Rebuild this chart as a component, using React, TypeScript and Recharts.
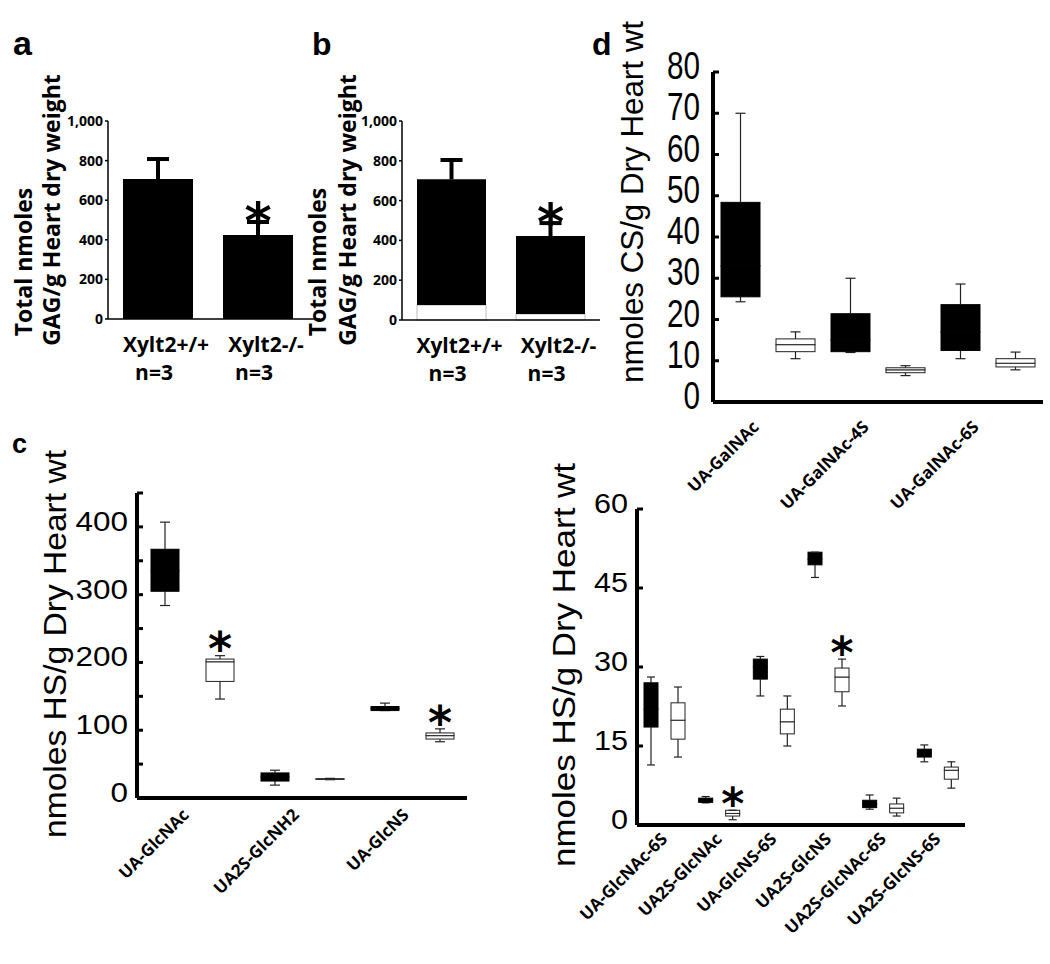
import React from "react";
import { BarChart, Bar, XAxis, YAxis } from "recharts";

const W = 1050;
const H = 964;

// a / b: total GAG per g heart dry weight
const gagGroups = ["Xylt2+/+", "Xylt2-/-"];
const gagSizes = ["n=3", "n=3"];
const gagMeanA = [707, 424];
const gagErrA = [111, 76];
const gagMeanB = [707, 422];
const gagBaseB = [75, 30];
const gagErrB = [107, 75];
const gagSig = [false, true];
const gagTicks = [0, 200, 400, 600, 800, 1000];

// d: CS disaccharides, each box = [min, q1, median, q3, max]
const csCats = ["UA-GalNAc", "UA-GalNAc-4S", "UA-GalNAc-6S"];
const csWt = [
  [24.3, 25.5, 33, 48.4, 70],
  [12, 12.2, 15, 21.4, 30],
  [10.5, 12.5, 17, 23.6, 28.6],
];
const csKo = [
  [10.5, 12.2, 13.9, 15.3, 17],
  [6.4, 7.1, 7.8, 8.3, 8.8],
  [7.8, 8.5, 9.4, 10.5, 12.1],
];
const csSig = [false, false, false];
const csTicks = [0, 10, 20, 30, 40, 50, 60, 70, 80];

// c: HS disaccharides
const hsCats = ["UA-GlcNAc", "UA2S-GlcNH2", "UA-GlcNS"];
const hsWt = [
  [284, 305, 335, 367, 407],
  [19, 25, 31, 37, 41],
  [129, 129, 132, 135, 140],
];
const hsKo = [
  [146, 172, 201, 205, 210],
  [27, 27.5, 28, 28.5, 29],
  [83, 87, 92, 96, 102],
];
const hsSig = [true, false, true];
const hsTicks = [0, 50, 100, 150, 200, 250, 300, 350, 400, 450];

// bottom right: minor HS disaccharides
const hs2Cats = ["UA-GlcNAc-6S", "UA2S-GlcNAc", "UA-GlcNS-6S", "UA2S-GlcNS", "UA2S-GlcNAc-6S", "UA2S-GlcNS-6S"];
const hs2Wt = [
  [11.4, 18.6, 22, 27.0, 28.1],
  [4.2, 4.3, 4.7, 5.1, 5.4],
  [24.5, 27.7, 30, 31.5, 32],
  [47, 49.4, 50.5, 51.8, 51.8],
  [3.0, 3.3, 4, 4.7, 5.7],
  [12.0, 12.9, 13.6, 14.4, 15.2],
];
const hs2Ko = [
  [12.9, 16.3, 19.9, 23.2, 26.2],
  [1.0, 1.7, 2.2, 2.8, 2.8],
  [15, 17.3, 19.6, 22.0, 24.5],
  [22.6, 25.3, 28.1, 29.8, 31.5],
  [1.7, 2.3, 3.2, 4.0, 5.1],
  [7.0, 8.7, 10.4, 11.0, 12.0],
];
const hs2Sig = [false, true, false, true, false, false];
const hs2Ticks = [0, 15, 30, 45, 60];

const BOLD = "'Open Sans', 'DejaVu Sans', sans-serif";
const SANS = "'Liberation Sans', Arial, sans-serif";
const STAR = "'DejaVu Sans', sans-serif";

const toBoxRows = (cats: string[], wt: number[][], ko: number[][], sig: boolean[]) =>
  cats.map((cat, i) => {
    const row: any = { cat, sig: sig[i] };
    [["wt", wt[i]], ["ko", ko[i]]].forEach(([g, v]: any) => {
      row[g + "0"] = v[0];
      row[g + "1"] = v[1] - v[0];
      row[g + "2"] = v[2] - v[1];
      row[g + "3"] = v[3] - v[2];
      row[g + "4"] = v[4] - v[3];
    });
    return row;
  });

const boxShape = (part: number, dark: boolean, cap: number, star: number) => (p: any) => {
  const cx = p.x + p.width / 2;
  if (part === 0) return <g />;
  if (part === 2 || part === 3)
    return (
      <rect
        x={p.x}
        y={p.y}
        width={p.width}
        height={Math.max(p.height, 0)}
        fill={dark ? "#000" : "#fff"}
        stroke={dark ? "#000" : "#222"}
        strokeWidth={1}
      />
    );
  const capY = part === 1 ? p.y + p.height : p.y;
  return (
    <g>
      <line x1={cx} x2={cx} y1={p.y} y2={p.y + p.height} stroke="#222" strokeWidth={1.2} />
      <line x1={cx - cap / 2} x2={cx + cap / 2} y1={capY} y2={capY} stroke="#222" strokeWidth={1.2} />
      {part === 4 && !dark && p.payload && p.payload.sig && (
        <text x={cx} y={p.y - 17 + star * 0.58} textAnchor="middle" fontSize={star} fontWeight="bold" fontFamily={STAR}>
          *
        </text>
      )}
    </g>
  );
};

const slantTick = (dx: number, dy: number, fs: number) => (p: any) => {
  const x = p.x + dx;
  const y = p.y + dy;
  return (
    <text x={x} y={y} transform={`rotate(-45, ${x}, ${y})`} textAnchor="end" fontSize={fs} fontWeight="bold" fontFamily={BOLD} fill="#000">
      {p.payload.value}
    </text>
  );
};

const bigTick = (fs: number, perChar: number, dy: number, fmt: (v: number) => string) => (p: any) => {
  const s = fmt(p.payload.value);
  if (!s) return <g />;
  return (
    <text
      x={p.x}
      y={p.y}
      dy={dy}
      textAnchor="end"
      fontSize={fs}
      fontFamily={SANS}
      fill="#000"
      textLength={perChar * s.length}
      lengthAdjust="spacingAndGlyphs"
    >
      {s}
    </text>
  );
};

function BoxPanel(props: any) {
  const { rows, plot, domain, ticks, barSize, barGap, cap, star, tickFs, perChar, tickDy, tickMargin, fmt, labelDx, labelDy, labelFs } = props;
  const [l, t, r, b] = plot;
  const yw = 60;
  const xh = 80;
  const bars: any[] = [];
  ["wt", "ko"].forEach((g) => {
    [0, 1, 2, 3, 4].forEach((k) => {
      bars.push(
        <Bar key={g + k} dataKey={g + k} stackId={g} isAnimationActive={false} shape={boxShape(k, g === "wt", cap, star)} />
      );
    });
  });
  return (
    <div style={{ position: "absolute", left: 0, top: 0 }}>
      <BarChart
        width={W}
        height={H}
        data={rows}
        barSize={barSize}
        barGap={barGap}
        margin={{ left: l - yw, top: t, right: W - r, bottom: H - b - xh }}
      >
        <XAxis
          dataKey="cat"
          height={xh}
          interval={0}
          axisLine={{ stroke: "#000", strokeWidth: 4 }}
          tickLine={false}
          tickSize={0}
          tickMargin={0}
          tick={slantTick(labelDx, labelDy, labelFs)}
        />
        <YAxis
          width={yw}
          type="number"
          domain={domain}
          ticks={ticks}
          interval={0}
          allowDataOverflow
          axisLine={{ stroke: "#000", strokeWidth: 4 }}
          tickLine={{ stroke: "#000", strokeWidth: 3 }}
          tickSize={-6}
          tickMargin={tickMargin}
          tick={bigTick(tickFs, perChar, tickDy, fmt)}
        />
        {bars}
      </BarChart>
    </div>
  );
}

const errShape = (p: any) => {
  const cx = p.x + p.width / 2;
  return (
    <g>
      <line x1={cx} x2={cx} y1={p.y} y2={p.y + p.height} stroke="#000" strokeWidth={4} />
      <line x1={cx - 11} x2={cx + 11} y1={p.y + 2} y2={p.y + 2} stroke="#000" strokeWidth={4} />
      {gagSig[p.index] && (
        <text x={cx} y={p.y - 11 + 52 * 0.58} textAnchor="middle" fontSize={52} fontWeight="bold" fontFamily={STAR}>
          *
        </text>
      )}
    </g>
  );
};

const groupTick = (p: any) => (
  <text y={p.y + 33} textAnchor="middle" fontSize={21} fontWeight="bold" fontFamily={BOLD} fill="#000">
    <tspan x={p.x + 8}>{p.payload.value}</tspan>
    <tspan x={p.x - 4} dy={28}>
      {gagSizes[p.index]}
    </tspan>
  </text>
);

const gagTickFmt = (v: number) => v.toLocaleString("en-US");

const gagTick = (p: any) => (
  <text x={p.x} y={p.y} dy={5} textAnchor="end" fontSize={14} fontWeight="bold" fontFamily={BOLD} fill="#000">
    {gagTickFmt(p.payload.value)}
  </text>
);

function GagPanel(props: any) {
  const { rows, plot, barSize, padRight, withBase } = props;
  const [l, t, r, b] = plot;
  const yw = 60;
  const xh = 70;
  return (
    <div style={{ position: "absolute", left: 0, top: 0 }}>
      <BarChart width={W} height={H} data={rows} barSize={barSize} margin={{ left: l - yw, top: t, right: W - r, bottom: H - b - xh }}>
        <XAxis
          dataKey="grp"
          height={xh}
          interval={0}
          padding={{ left: 0, right: padRight }}
          axisLine={{ stroke: "#000", strokeWidth: 1.5 }}
          tickLine={false}
          tickSize={0}
          tickMargin={0}
          tick={groupTick}
        />
        <YAxis
          width={yw}
          type="number"
          domain={[0, 1000]}
          ticks={gagTicks}
          interval={0}
          axisLine={{ stroke: "#000", strokeWidth: 1.5 }}
          tickLine={{ stroke: "#000", strokeWidth: 1.5 }}
          tickSize={3}
          tickMargin={2}
          tick={gagTick}
        />
        {withBase && (
          <Bar
            dataKey="base"
            stackId="m"
            isAnimationActive={false}
            shape={(p: any) => <rect x={p.x} y={p.y} width={p.width} height={p.height} fill="#fff" stroke="#bbb" strokeWidth={1} />}
          />
        )}
        <Bar dataKey="mean" stackId="m" fill="#000" isAnimationActive={false} />
        <Bar dataKey="err" stackId="m" isAnimationActive={false} shape={errShape} />
      </BarChart>
    </div>
  );
}

const rowsA = gagGroups.map((grp, i) => ({ grp, mean: gagMeanA[i], err: gagErrA[i] }));
const rowsB = gagGroups.map((grp, i) => ({ grp, base: gagBaseB[i], mean: gagMeanB[i] - gagBaseB[i], err: gagErrB[i] }));

const vText = (x: number, y: number, text: string, fs: number, family: string, bold: boolean, len?: number) => (
  <text
    x={x}
    y={y}
    transform={`rotate(-90, ${x}, ${y})`}
    textAnchor="middle"
    fontSize={fs}
    fontFamily={family}
    fontWeight={bold ? "bold" : "normal"}
    fill="#000"
    textLength={len}
    lengthAdjust={len ? "spacingAndGlyphs" : undefined}
  >
    {text}
  </text>
);

export default function App() {
  return (
    <div style={{ position: "absolute", left: 0, top: 0, width: W, height: H, background: "#fff", overflow: "hidden" }}>
      <GagPanel rows={rowsA} plot={[108, 121, 320, 319]} barSize={70} padRight={12} withBase={false} />
      <GagPanel rows={rowsB} plot={[402, 121, 600, 320]} barSize={69} padRight={0} withBase={true} />
      <BoxPanel
        rows={toBoxRows(csCats, csWt, csKo, csSig)}
        plot={[713, 72, 1043, 402]}
        domain={[0, 80]}
        ticks={csTicks}
        barSize={39}
        barGap={16}
        cap={10}
        star={46}
        tickFs={38}
        perChar={16.5}
        tickDy={7}
        tickMargin={19}
        fmt={(v: number) => String(v)}
        labelDx={-8}
        labelDy={26}
        labelFs={17}
      />
      <BoxPanel
        rows={toBoxRows(hsCats, hsWt, hsKo, hsSig)}
        plot={[137, 493, 467, 798]}
        domain={[0, 450]}
        ticks={hsTicks}
        barSize={28}
        barGap={27}
        cap={10}
        star={46}
        tickFs={27}
        perChar={17.5}
        tickDy={4}
        tickMargin={15}
        fmt={(v: number) => (v % 100 === 0 && v <= 400 ? String(v) : "")}
        labelDx={-2}
        labelDy={18}
        labelFs={17}
      />
      <BoxPanel
        rows={toBoxRows(hs2Cats, hs2Wt, hs2Ko, hs2Sig)}
        plot={[637, 509, 965, 825]}
        domain={[0, 60]}
        ticks={hs2Ticks}
        barSize={14}
        barGap={13}
        cap={8}
        star={44}
        tickFs={27}
        perChar={17}
        tickDy={4}
        tickMargin={15}
        fmt={(v: number) => String(v)}
        labelDx={4}
        labelDy={15}
        labelFs={17}
      />
      <svg width={W} height={H} style={{ position: "absolute", left: 0, top: 0, pointerEvents: "none" }}>
        <text x={13} y={55} fontSize={34} fontWeight="bold" fontFamily={SANS}>a</text>
        <text x={312} y={55} fontSize={32} fontWeight="bold" fontFamily={SANS}>b</text>
        <text x={12} y={453} fontSize={27} fontWeight="bold" fontFamily={SANS}>c</text>
        <text x={592} y={55} fontSize={32} fontWeight="bold" fontFamily={SANS}>d</text>
        {vText(32, 262, "Total nmoles", 23, BOLD, true)}
        {vText(60, 210, "GAG/g Heart dry weight", 23, BOLD, true)}
        {vText(326, 262, "Total nmoles", 23, BOLD, true)}
        {vText(356, 210, "GAG/g Heart dry weight", 23, BOLD, true)}
        {vText(643, 202, "nmoles CS/g Dry Heart wt", 32, SANS, false, 362)}
        {vText(66, 644, "nmoles HS/g Dry Heart wt", 32, SANS, false, 388)}
        {vText(575, 665, "nmoles HS/g Dry Heart wt", 32, SANS, false, 404)}
      </svg>
    </div>
  );
}
